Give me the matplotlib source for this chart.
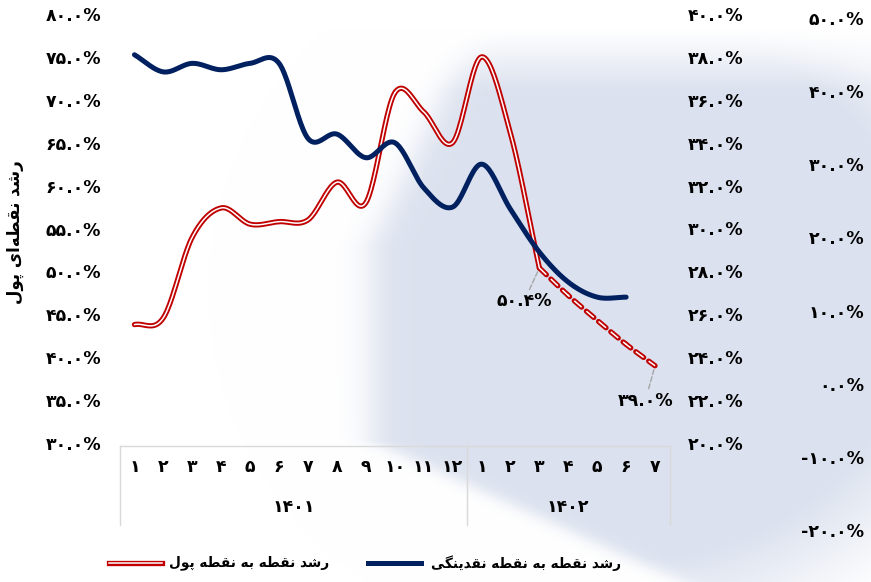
import matplotlib
matplotlib.use('Agg')
import matplotlib.pyplot as plt
import matplotlib.transforms as mtransforms
from matplotlib.lines import Line2D
import numpy as np

plt.rcParams['font.family'] = ['DejaVu Sans']
plt.rcParams['lines.scale_dashes'] = False

# data
months = ['1', '2', '3', '4', '5', '6', '7', '8', '9', '10', '11', '12',
          '1', '2', '3', '4', '5', '6', '7']
years = ['1401', '1402']
money = [43.8, 44.6, 54.0, 57.4, 55.5, 55.8, 56.0, 60.4, 58.0, 70.8, 68.6, 65.0,
         75.0, 66.1, 50.4, 47.2, 44.3, 41.5, 39.0]          # left axis
liquidity = [38.1, 37.3, 37.7, 37.4, 37.7, 37.7, 34.2, 34.4, 33.3, 34.0, 31.9, 31.0,
             33.0, 30.9, 28.9, 27.5, 26.8, 26.8]                  # middle axis
solid_end = 14   # money is dashed after 1402/3
label_idx = [14, 18]

red = '#C00000'
blue = '#002060'
W, H = 871, 582

FA_DIG = str.maketrans('0123456789', '۰۱۲۳۴۵۶۷۸۹')


def fa(s):
    return s.translate(FA_DIG)


# isolated, final, initial, medial
FORMS = {
    'ا': ('\uFE8D', '\uFE8E', None, None),
    'ب': ('\uFE8F', '\uFE90', '\uFE91', '\uFE92'),
    'پ': ('\uFB56', '\uFB57', '\uFB58', '\uFB59'),
    'د': ('\uFEA9', '\uFEAA', None, None),
    'ر': ('\uFEAD', '\uFEAE', None, None),
    'ش': ('\uFEB5', '\uFEB6', '\uFEB7', '\uFEB8'),
    'ط': ('\uFEC1', '\uFEC2', '\uFEC3', '\uFEC4'),
    'ق': ('\uFED5', '\uFED6', '\uFED7', '\uFED8'),
    'ل': ('\uFEDD', '\uFEDE', '\uFEDF', '\uFEE0'),
    'ن': ('\uFEE5', '\uFEE6', '\uFEE7', '\uFEE8'),
    'ه': ('\uFEE9', '\uFEEA', '\uFEEB', '\uFEEC'),
    'و': ('\uFEED', '\uFEEE', None, None),
    'ی': ('\uFBFC', '\uFBFD', '\uFBFE', '\uFBFF'),
    'گ': ('\uFB92', '\uFB93', '\uFB94', '\uFB95'),
}


def shape(text):
    out = []
    for i, ch in enumerate(text):
        if ch not in FORMS:
            if ch != '\u200c':
                out.append(ch)
            continue
        prev = text[i - 1] if i > 0 else ''
        nxt = text[i + 1] if i + 1 < len(text) else ''
        pj = prev in FORMS and FORMS[prev][2] is not None
        nj = FORMS[ch][2] is not None and nxt in FORMS
        f = FORMS[ch]
        if pj and nj:
            out.append(f[3])
        elif pj:
            out.append(f[1])
        elif nj:
            out.append(f[2])
        else:
            out.append(f[0])
    return ''.join(out[::-1])


def smooth(x, y, n=24):
    x = np.asarray(x, float)
    y = np.asarray(y, float)
    px = np.r_[2 * x[0] - x[1], x, 2 * x[-1] - x[-2]]
    py = np.r_[2 * y[0] - y[1], y, 2 * y[-1] - y[-2]]
    xs, ys = [], []
    t = np.linspace(0, 1, n)
    for i in range(1, len(px) - 2):
        for arr, out in ((px, xs), (py, ys)):
            p0, p1, p2, p3 = arr[i - 1:i + 3]
            out.append(0.5 * (2 * p1 + (-p0 + p2) * t + (2 * p0 - 5 * p1 + 4 * p2 - p3) * t ** 2
                              + (-p0 + 3 * p1 - 3 * p2 + p3) * t ** 3))
    return np.concatenate(xs), np.concatenate(ys)


fig = plt.figure(figsize=(W / 100, H / 100), dpi=100)

# faint background picture (blurred photo in the original)
yy, xx = np.mgrid[0:H, 0:W].astype(float)
edge = np.where(yy < 440, np.maximum(370, 440 - 0.48 * (yy - 100)), 370 + 2.2 * (yy - 440))
t = 1 / (1 + np.exp(-(xx - edge) / 10))
t *= np.clip((yy - 30) / 60, 0, 1)
r = np.hypot((xx - 620) / 330, (yy - 290) / 300)
t *= np.clip((1.25 - r) / 0.35, 0, 1)
tint = np.array([0.86, 0.885, 0.935])
img = 1 - t[..., None] * (1 - tint)
bg = fig.add_axes([0, 0, 1, 1], zorder=-5)
bg.imshow(img, extent=(0, W, H, 0), aspect='auto')
bg.axis('off')

left, right, top, bottom = 120, 669.5, 14, 443
ax = fig.add_axes([left / W, 1 - bottom / H, (right - left) / W, (bottom - top) / H])
ax.patch.set_visible(False)
ax.set_xlim(-0.5, len(months) - 0.5)
ax.set_ylim(30, 80)
ax.set_yticks(np.arange(30, 81, 5))
ax.set_yticklabels([fa(f'{v:.1f}%') for v in np.arange(30, 81, 5)])
ax.set_xticks([])
ax.tick_params(axis='y', length=0, pad=13.5, labelsize=12.5)
for s in ax.spines.values():
    s.set_visible(False)

ax2 = ax.twinx()
ax2.set_ylim(20, 40)
ax2.set_yticks(np.arange(20, 41, 2))
ax2.set_yticklabels([fa(f'{v:.1f}%') for v in np.arange(20, 41, 2)])
ax2.tick_params(axis='y', length=0, pad=13.5, labelsize=12.5)
for s in ax2.spines.values():
    s.set_visible(False)

ax3 = fig.add_axes([864 / W, 1 - 530 / H, 0.001, (530 - 18) / H])
ax3.patch.set_visible(False)
ax3.set_ylim(-20, 50)
ax3.set_yticks(np.arange(-20, 51, 10))
ax3.set_yticklabels([fa(f'{v:.1f}%') for v in np.arange(-20, 51, 10)])
ax3.set_xticks([])
ax3.tick_params(axis='y', length=0, pad=0, labelsize=12.5)
for s in ax3.spines.values():
    s.set_visible(False)

for a in (ax, ax2, ax3):
    for lab in a.get_yticklabels():
        lab.set_fontweight('bold')

# money line: red with white core, dashed tail
xi = np.arange(len(money))
sx, sy = smooth(xi[:solid_end + 1], money[:solid_end + 1])
ax.plot(sx, sy, color=red, lw=3.8, solid_capstyle='round', zorder=3)
ax.plot(sx, sy, color='white', lw=1.1, solid_capstyle='round', zorder=4)
dx, dy = smooth(xi[solid_end:], money[solid_end:])
ax.plot(dx, dy, color=red, lw=3.8, dashes=(7, 4.5), dash_capstyle='round', zorder=3)
ax.plot(dx, dy, color='white', lw=1.1, dashes=(7, 4.5), dash_capstyle='butt', zorder=4)

bx, by = smooth(np.arange(len(liquidity)), liquidity)
ax2.plot(bx, by, color=blue, lw=3.6, solid_capstyle='round')

# data labels
offsets = {14: (-11, -24), 18: (-7, -25)}
for i in label_idx:
    ax.annotate(fa(f'{money[i]:.1f}%'), xy=(i, money[i]), xytext=offsets[i],
                textcoords='offset points', ha='center', va='center',
                fontsize=12.5, fontweight='bold', zorder=6,
                arrowprops=dict(arrowstyle='-', color='#a6a6a6', ls='--', lw=1,
                                shrinkA=0, shrinkB=3))

# category axis box
tr = mtransforms.blended_transform_factory(ax.transData, ax.transAxes)
y_line = (bottom - 446) / (bottom - top)
y_low = (bottom - 525) / (bottom - top)
y_mon = (bottom - 467) / (bottom - top)
y_year = (bottom - 507) / (bottom - top)
grid_c = '#d9d9d9'
ax.plot([-0.5, len(months) - 0.5], [y_line, y_line], color=grid_c, lw=1,
        transform=tr, clip_on=False)
for xv in (-0.5, 11.5, len(months) - 0.5):
    ax.plot([xv, xv], [y_line, y_low], color=grid_c, lw=1, transform=tr, clip_on=False)
for i, m in enumerate(months):
    ax.text(i, y_mon, fa(m), transform=tr, ha='center', va='center',
            fontsize=12.5, fontweight='bold')
ax.text(5.5, y_year, fa(years[0]), transform=tr, ha='center', va='center',
        fontsize=12.5, fontweight='bold')
ax.text(15, y_year, fa(years[1]), transform=tr, ha='center', va='center',
        fontsize=12.5, fontweight='bold')

# axis title
fig.text(15 / W, 1 - 232 / H, shape('رشد نقطه\u200cای پول'), rotation=90,
         ha='center', va='center', fontsize=12, fontweight='bold')

# legend
ly = 1 - 563 / H
fig.add_artist(Line2D([109 / W, 162 / W], [ly, ly], color=red, lw=3.8))
fig.add_artist(Line2D([109 / W, 162 / W], [ly, ly], color='white', lw=1.1))
fig.text(329 / W, ly, shape('رشد نقطه به نقطه پول'), ha='right', va='center',
         fontsize=9.8, fontweight='bold')
fig.add_artist(Line2D([368 / W, 421 / W], [ly, ly], color=blue, lw=3.6))
fig.text(621 / W, ly, shape('رشد نقطه به نقطه نقدینگی'), ha='right', va='center',
         fontsize=9.8, fontweight='bold')

plt.savefig('out.png', dpi=100)
